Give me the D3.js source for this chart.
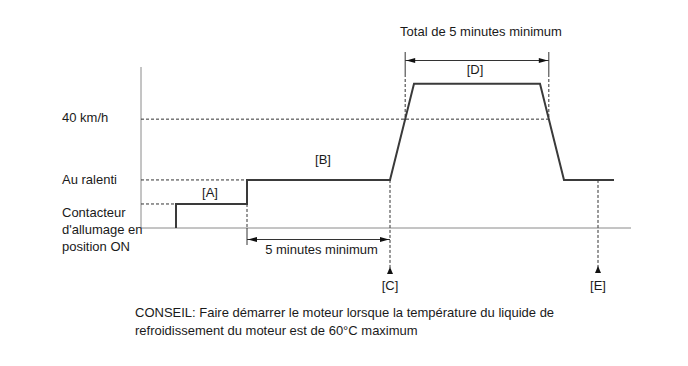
<!DOCTYPE html>
<html><head><meta charset="utf-8">
<script src="https://cdn.jsdelivr.net/npm/d3@7"></script>
<style>body{margin:0;background:#fff}svg{display:block}text{font-family:"Liberation Sans",Arial,sans-serif;font-size:13px;fill:#1a1a1a}</style>
</head><body><svg id="c" width="688" height="366"></svg>
<script>
// Level labels (y axis) and their level values
const levelLabels = [["40 km/h"], ["Au ralenti"], ["Contacteur", "d'allumage en", "position ON"]];
const levelValues = [45.3, 20, 10];
// Speed profile: [time, level]
const profileTime  = [3.5, 3.5, 10.6, 10.6, 24.9, 27.3, 39.9, 42.3, 47.3];
const profileLevel = [0, 10, 10, 20, 20, 60, 60, 20, 20];
// Segment labels
const segLabels = ["[A]", "[B]", "[D]"];
const segTimes  = [6.9, 18.2, 33.4];
const segLevels = [13, 26.5, 64];
// Marker labels
const markerLabels = ["[C]", "[E]"];
const markerTimes  = [24.9, 45.7];
const spanTexts = ["5 minutes minimum", "Total de 5 minutes minimum"];
const noteLines = ["CONSEIL: Faire démarrer le moteur lorsque la température du liquide de",
                   "refroidissement du moteur est de 60°C maximum"];

const svg = d3.select("#c");
const x = d3.scaleLinear().domain([0, 49]).range([141, 631]);
const y = d3.scaleLinear().domain([0, 67]).range([228, 67]);

const dark = "#333", axisC = "#8a8a8a";
function dashed(x1, y1, x2, y2) {
  svg.append("line").attr("x1", x1).attr("y1", y1).attr("x2", x2).attr("y2", y2)
    .attr("stroke", dark).attr("stroke-width", 1).attr("stroke-dasharray", "3,2");
}
function solid(x1, y1, x2, y2, c, w) {
  svg.append("line").attr("x1", x1).attr("y1", y1).attr("x2", x2).attr("y2", y2)
    .attr("stroke", c || dark).attr("stroke-width", w || 1);
}
function arrowHead(px, py, dir) { // dir: 'l','r','u'
  let pts;
  if (dir === 'l') pts = [[px, py], [px + 9, py - 2.5], [px + 9, py + 2.5]];
  else if (dir === 'r') pts = [[px, py], [px - 9, py - 2.5], [px - 9, py + 2.5]];
  else pts = [[px, py], [px - 3, py + 7], [px + 3, py + 7]];
  svg.append("path").attr("d", d3.line()(pts) + "Z").attr("fill", "#111");
}

// axes
solid(x(0), y(0), x(49), y(0), axisC, 1);
solid(x(0), y(0), x(0), y(67), axisC, 1);

// profile data points
const pts = profileTime.map((t, i) => [t, profileLevel[i]]);
function cross(a, b, lv) { return a[0] + (lv - a[1]) / (b[1] - a[1]) * (b[0] - a[0]); }
const tUp = cross(pts[4], pts[5], levelValues[0]);
const tDown = cross(pts[6], pts[7], levelValues[0]);

// level dashed guides
dashed(x(0), y(levelValues[0]), x(tDown), y(levelValues[0]));
dashed(x(0), y(levelValues[1]), x(profileTime[2]), y(levelValues[1]));
dashed(x(0), y(levelValues[2]), x(profileTime[0]), y(levelValues[2]));

// vertical at B start
dashed(x(profileTime[2]), y(10), x(profileTime[2]), y(0));
solid(x(profileTime[2]), y(0), x(profileTime[2]), y(0) + 17, dark, 1);

// C marker
dashed(x(markerTimes[0]), y(20), x(markerTimes[0]), 268);
arrowHead(x(markerTimes[0]), 267, 'u');
// E marker
dashed(x(markerTimes[1]), y(20), x(markerTimes[1]), 268);
arrowHead(x(markerTimes[1]), 266, 'u');

// D verticals
[tUp, tDown].forEach(t => {
  solid(x(t), 52, x(t), 74, dark, 1);
  dashed(x(t), 74, x(t), y(levelValues[0]));
});

// span arrows
solid(x(profileTime[2]), 239.5, x(markerTimes[0]), 239.5, dark, 1);
arrowHead(x(profileTime[2]) + 1, 239.5, 'l');
arrowHead(x(markerTimes[0]) - 1, 239.5, 'r');
solid(x(tUp), 60.5, x(tDown), 60.5, dark, 1);
arrowHead(x(tUp) + 1, 60.5, 'l');
arrowHead(x(tDown) - 1, 60.5, 'r');

// profile
svg.append("path").datum(pts)
  .attr("d", d3.line().x(d => x(d[0])).y(d => y(d[1])))
  .attr("fill", "none").attr("stroke", "#3a3a3a").attr("stroke-width", 2);

// level labels
const lvlBase = [122, 184, 217];
levelLabels.forEach((lines, i) => {
  lines.forEach((s, j) => {
    svg.append("text").attr("x", 62).attr("y", lvlBase[i] + j * 17).text(s);
  });
});
segLabels.forEach((s, i) => {
  svg.append("text").attr("x", x(segTimes[i])).attr("y", y(segLevels[i])).attr("text-anchor", "middle").text(s);
});
markerLabels.forEach((s, i) => {
  svg.append("text").attr("x", x(markerTimes[i])).attr("y", 290).attr("text-anchor", "middle").text(s);
});
svg.append("text").attr("x", (x(profileTime[2]) + x(markerTimes[0])) / 2 + 3).attr("y", 254).attr("text-anchor", "middle").text(spanTexts[0]);
svg.append("text").attr("x", 481).attr("y", 36).attr("text-anchor", "middle").text(spanTexts[1]);
noteLines.forEach((s, i) => {
  svg.append("text").attr("x", 135).attr("y", 317 + i * 18).text(s);
});
</script></body></html>
